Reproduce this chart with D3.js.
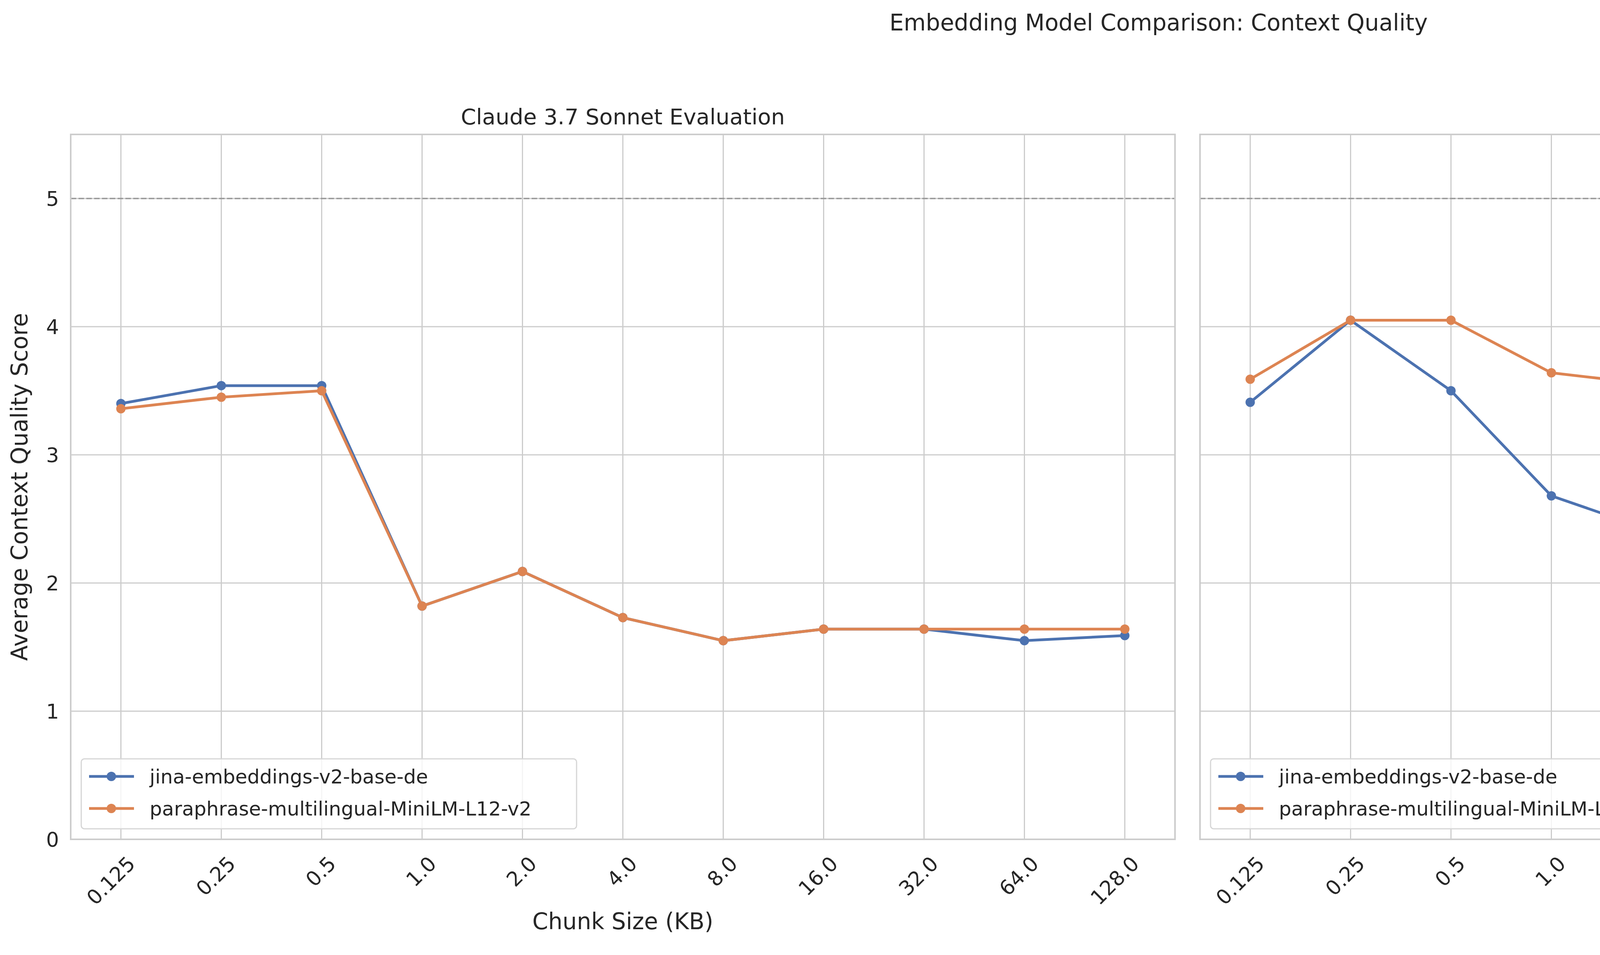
<!DOCTYPE html>
<html><head><meta charset="utf-8">
<script src="https://cdn.jsdelivr.net/npm/d3@7"></script>
<style>body{margin:0;background:#fff;overflow:hidden}text{font-family:"DejaVu Sans",sans-serif;fill:#262626}</style>
</head><body><svg id="c" width="5932" height="2444"></svg>
<script>
var chunkSizes = ["0.125","0.25","0.5","1.0","2.0","4.0","8.0","16.0","32.0","64.0","128.0"];
var seriesNames = ["jina-embeddings-v2-base-de","paraphrase-multilingual-MiniLM-L12-v2"];
var colors = ["#4c72b0","#dd8452"];
var claudeJina = [3.4,3.54,3.54,1.82,2.09,1.73,1.55,1.64,1.64,1.55,1.59];
var claudePara = [3.36,3.45,3.5,1.82,2.09,1.73,1.55,1.64,1.64,1.64,1.64];
var gptJina = [3.41,4.05,3.5,2.68,2.41,3.23,2.68,2.18,2.18,2.05,2.05];
var gptPara = [3.59,4.05,4.05,3.64,3.55,3.05,3.05,2.82,2.82,2.59,2.59];
var yTicks = [0,1,2,3,4,5];

var svg = d3.select("#c");
svg.append("text").attr("x",2966).attr("y",78).attr("text-anchor","middle")
  .style("font-size","58px").text("Embedding Model Comparison: Context Quality");

var plotTop = 344, plotBottom = 2148;
var y = d3.scaleLinear().domain([0,5.5]).range([plotBottom,plotTop]);

function panel(x0, x1, title, data, showY) {
    var g = svg.append("g");
    var x = d3.scalePoint().domain(chunkSizes).range([x0,x1]).padding(0.5);
    g.selectAll("line.vg").data(chunkSizes).enter().append("line")
      .attr("x1",d=>x(d)).attr("x2",d=>x(d)).attr("y1",plotTop).attr("y2",plotBottom)
      .attr("stroke","#cccccc").attr("stroke-width",3);
    g.selectAll("line.hg").data(yTicks).enter().append("line")
      .attr("x1",x0).attr("x2",x1).attr("y1",d=>y(d)).attr("y2",d=>y(d))
      .attr("stroke","#cccccc").attr("stroke-width",3);
    g.append("line").attr("x1",x0).attr("x2",x1).attr("y1",y(5)).attr("y2",y(5))
      .attr("stroke","#999").attr("stroke-width",3.5).attr("stroke-dasharray","14,6");
    g.append("rect").attr("x",x0).attr("y",plotTop).attr("width",x1-x0).attr("height",plotBottom-plotTop)
      .attr("fill","none").attr("stroke","#cccccc").attr("stroke-width",4);
    if (showY) {
        g.selectAll("text.yt").data(yTicks).enter().append("text")
          .attr("x",x0-30).attr("y",d=>y(d)+19).attr("text-anchor","end")
          .style("font-size","52px").text(d=>d);
        g.append("text").attr("transform","translate(70,"+((plotTop+plotBottom)/2)+") rotate(-90)")
          .attr("text-anchor","middle").style("font-size","58px").text("Average Context Quality Score");
    }
    g.selectAll("text.xt").data(chunkSizes).enter().append("text")
      .attr("transform",d=>"translate("+(x(d)+14)+","+(plotBottom+40)+") rotate(-45)")
      .attr("text-anchor","end").attr("dy","0.7em").style("font-size","52px").text(d=>d);
    g.append("text").attr("x",(x0+x1)/2).attr("y",2378).attr("text-anchor","middle")
      .style("font-size","58px").text("Chunk Size (KB)");
    g.append("text").attr("x",(x0+x1)/2).attr("y",plotTop-26).attr("text-anchor","middle")
      .style("font-size","56px").text(title);
    var line = d3.line().x((d,i)=>x(chunkSizes[i])).y(d=>y(d));
    data.forEach(function (vals, k) {
        g.append("path").datum(vals).attr("d",line).attr("fill","none")
          .attr("stroke",colors[k]).attr("stroke-width",7);
        g.selectAll("circle.s"+k).data(vals).enter().append("circle")
          .attr("cx",(d,i)=>x(chunkSizes[i])).attr("cy",d=>y(d)).attr("r",12).attr("fill",colors[k]);
    });
    var lx = x0+27, ly = 1942;
    g.append("rect").attr("x",lx).attr("y",ly).attr("width",1268).attr("height",179).attr("rx",8)
      .attr("fill","rgba(255,255,255,0.8)").attr("stroke","#d6d6d6").attr("stroke-width",3);
    seriesNames.forEach(function (n, k) {
        var yy = ly + 45 + k*82;
        g.append("line").attr("x1",lx+20).attr("x2",lx+135).attr("y1",yy).attr("y2",yy)
          .attr("stroke",colors[k]).attr("stroke-width",7);
        g.append("circle").attr("cx",lx+77).attr("cy",yy).attr("r",12).attr("fill",colors[k]);
        g.append("text").attr("x",lx+175).attr("y",yy+18).style("font-size","50px").text(n);
    });
}
panel(181, 3008, "Claude 3.7 Sonnet Evaluation", [claudeJina, claudePara], true);
panel(3072, 5899, "ChatGPT o4-mini Evaluation", [gptJina, gptPara], false);
</script></body></html>
